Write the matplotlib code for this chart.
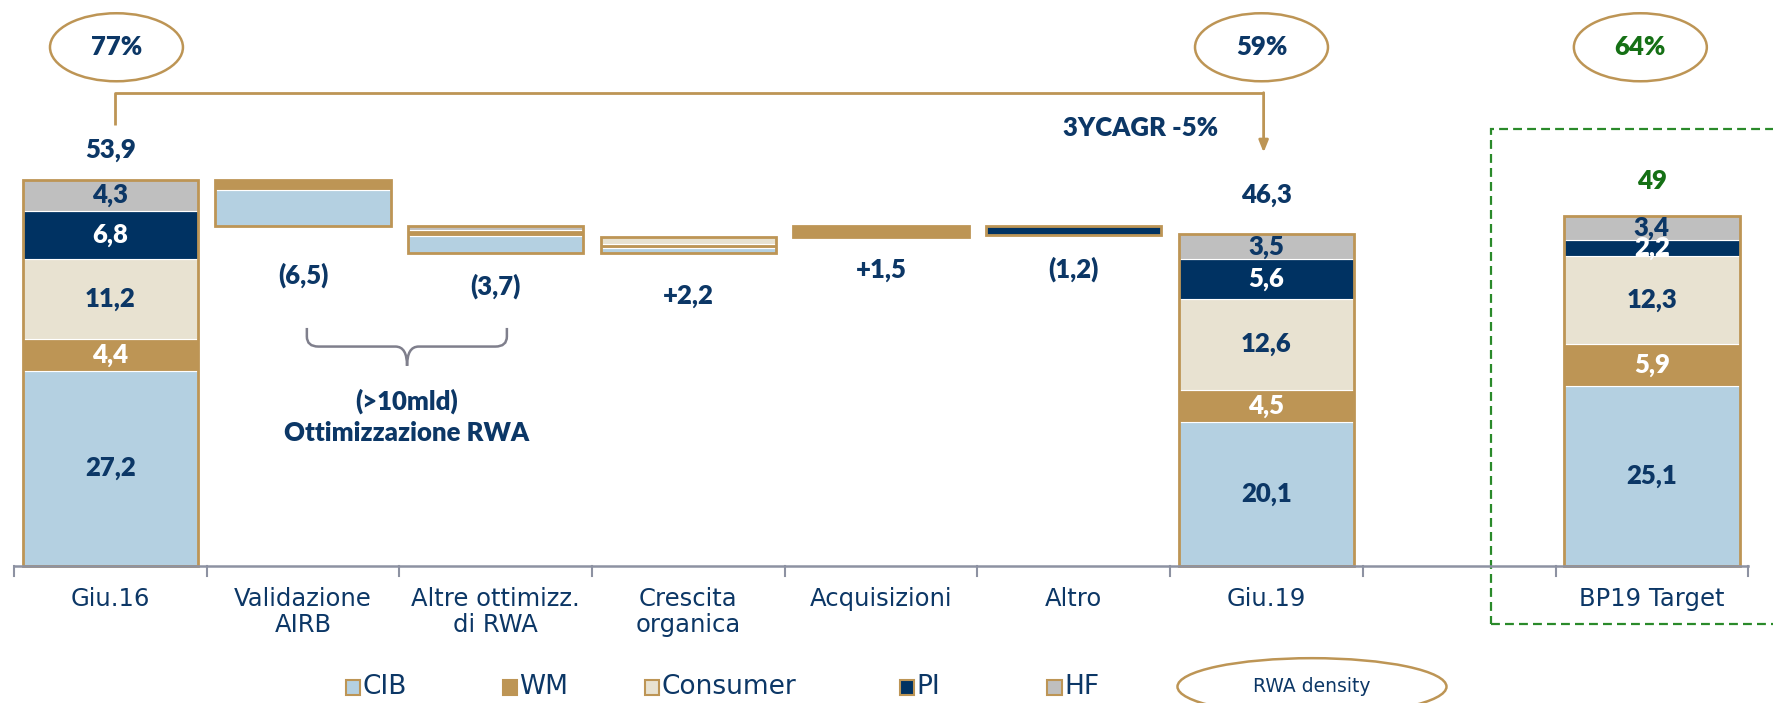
import matplotlib
matplotlib.use('Agg')
import matplotlib.pyplot as plt
from matplotlib.patches import Ellipse, Rectangle, PathPatch
from matplotlib.path import Path
import numpy as np

plt.rcParams['font.family'] = ['Lato', 'DejaVu Sans']

# Data
categories = ['Giu.16', 'Validazione\nAIRB', 'Altre ottimizz.\ndi RWA', 'Crescita\norganica',
              'Acquisizioni', 'Altro', 'Giu.19', '', 'BP19 Target']
segments = ['CIB', 'WM', 'Consumer', 'PI', 'HF']

giu16 = [27.2, 4.4, 11.2, 6.8, 4.3]
giu19 = [20.1, 4.5, 12.6, 5.6, 3.5]
bp19 = [25.1, 5.9, 12.3, 2.2, 3.4]
bp19_total = 49

step_deltas = [-6.5, -3.7, 2.2, 1.5, -1.2]
# split of each step by business line (CIB, WM, Consumer, PI, HF)
step_mix = [
    [5.0, 1.5, 0.0, 0.0, 0.0],
    [2.4, 0.8, 0.0, 0.0, 0.5],
    [0.6, 0.6, 1.0, 0.0, 0.0],
    [0.0, 1.5, 0.0, 0.0, 0.0],
    [0.0, 0.0, 0.0, 1.2, 0.0],
]

density = ['77%', '59%', '64%']
cagr_label = '3YCAGR -5%'

# Style
NAVY = '#0c3766'
GOLD = '#bd9555'
GREEN = '#157015'
colors = ['#b4d0e1', '#bd9555', '#e8e2d1', '#003262', '#bfbfbf']
seg_text = [NAVY, 'white', NAVY, 'white', NAVY]
BAR_W = 0.91
NUM_FS = 18.5
NUM_W = 'heavy'
label_drop = [6.8, 4.7, 6.0, 4.6, 4.8]
CAT_FONT = ['DejaVu Sans']


def fmt(v):
    return ('%.1f' % v).replace('.', ',')


fig = plt.figure(figsize=(17.74, 7.03), dpi=100)
ax = fig.add_axes([0, 0, 1, 1])
ax.set_xlim(-0.5724, 8.6336)
ax.set_ylim(-19.18, 79.0)
ax.axis('off')


def stack(x, values, base=0.0, labels=True):
    bottom = base
    for k, v in enumerate(values):
        if v <= 0:
            continue
        ax.bar(x, v, BAR_W, bottom=bottom, color=colors[k], edgecolor='white', linewidth=0.8, zorder=2)
        if labels:
            ax.text(x, bottom + v / 2, fmt(v), ha='center', va='center', fontsize=NUM_FS,
                    fontweight=NUM_W, color=seg_text[k], zorder=4)
        bottom += v
    ax.bar(x, bottom - base, BAR_W, bottom=base, fill=False, edgecolor=GOLD, linewidth=2, zorder=3)
    return bottom


# stacked totals
top16 = stack(0, giu16)
top19 = stack(6, giu19)
top_bp = stack(8, bp19)
ax.text(0, top16 + 4.2, fmt(top16), ha='center', va='center', fontsize=NUM_FS, fontweight=NUM_W, color=NAVY)
ax.text(6, top19 + 5.4, fmt(top19), ha='center', va='center', fontsize=NUM_FS, fontweight=NUM_W, color=NAVY)
ax.text(8, top_bp + 4.8, str(bp19_total), ha='center', va='center', fontsize=NUM_FS, fontweight=NUM_W,
        color=GREEN)

# waterfall steps
level = top16
for i, (d, mix) in enumerate(zip(step_deltas, step_mix)):
    x = i + 1
    lo = min(level, level + d)
    stack(x, mix, base=lo, labels=False)
    txt = ('+' + fmt(d)) if d > 0 else '(' + fmt(-d) + ')'
    ax.text(x, lo - label_drop[i], txt, ha='center', va='center', fontsize=NUM_FS,
            fontweight=NUM_W, color=NAVY)
    level += d

# baseline and category ticks
ax.plot([-0.502, 8.499], [0, 0], color='#8d92a2', lw=1.8, zorder=5)
for b in np.arange(-0.5, 9.0, 1.0):
    ax.plot([b, b], [0, -1.4], color='#8d92a2', lw=1.5, zorder=5)
for i, c in enumerate(categories):
    ax.text(i, -3.0, c, ha='center', va='top', fontsize=17.5, color=NAVY, linespacing=1.08,
            family=CAT_FONT)

# RWA density bubbles
for x, d in zip([0.032, 5.974, 7.94], density):
    ax.add_patch(Ellipse((x, 72.4), 0.69, 9.5, fill=False, edgecolor=GOLD, lw=1.8))
    ax.text(x, 72.4, d, ha='center', va='center', fontsize=NUM_FS, fontweight=NUM_W,
            color=GREEN if d == density[-1] else NAVY)

# CAGR bracket
ax.plot([0.025, 0.025, 5.985], [61.6, 66.05, 66.05], color=GOLD, lw=2, solid_capstyle='butt')
ax.annotate('', xy=(5.985, 57.7), xytext=(5.985, 66.05),
            arrowprops=dict(arrowstyle='-|>,head_length=0.7,head_width=0.28', color=GOLD, lw=2,
                            shrinkA=0, shrinkB=0))
ax.text(5.344, 61.15, cagr_label, ha='center', va='center', fontsize=NUM_FS, fontweight=NUM_W, color=NAVY)

# brace under the two optimisation steps
x0, x1, xm = 1.02, 2.058, 1.54
yt, yh, ytip = 33.2, 30.6, 27.9
rx, ry = 0.06, 1.4
verts = [(x0, yt), (x0, yh + ry), (x0, yh), (x0 + rx, yh), (xm - rx, yh), (xm, yh), (xm, ytip),
         (xm, yh), (xm + rx, yh), (x1 - rx, yh), (x1, yh), (x1, yh + ry), (x1, yt)]
codes = [Path.MOVETO, Path.LINETO, Path.CURVE3, Path.CURVE3, Path.LINETO, Path.CURVE3, Path.CURVE3,
         Path.CURVE3, Path.CURVE3, Path.LINETO, Path.CURVE3, Path.CURVE3, Path.LINETO]
ax.add_patch(PathPatch(Path(verts, codes), fill=False, edgecolor='#7f7f8c', lw=1.8))
ax.text(xm, 22.9, '(>10mld)', ha='center', va='center', fontsize=NUM_FS, fontweight=NUM_W, color=NAVY)
ax.text(xm, 18.5, 'Ottimizzazione RWA', ha='center', va='center', fontsize=NUM_FS, fontweight=NUM_W,
        color=NAVY)

# target box
ax.add_patch(Rectangle((7.165, -8.2), 2.0, 69.2, fill=False, edgecolor='#2a8a2a', lw=1.6,
                       linestyle=(0, (4.0, 2.3))))

# legend
leg_x = [1.259, 2.074, 2.811, 4.134, 4.90]
for k, (lx, name) in enumerate(zip(leg_x, segments)):
    ax.add_patch(Rectangle((lx - 0.037, -18.1), 0.074, 2.2, facecolor=colors[k], edgecolor=GOLD, lw=1.5))
    ax.text(lx + 0.05, -16.9, name, ha='left', va='center', fontsize=19, color=NAVY, family=CAT_FONT)
ax.add_patch(Ellipse((6.236, -16.9), 1.396, 7.96, fill=False, edgecolor=GOLD, lw=1.8))
ax.text(6.236, -16.9, 'RWA density', ha='center', va='center', fontsize=13.5, color=NAVY, family=CAT_FONT)

fig.savefig('out.png', dpi=100)
